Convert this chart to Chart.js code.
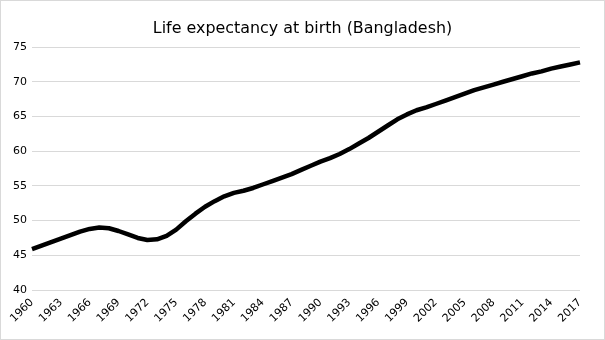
<!DOCTYPE html>
<html>
<head>
<meta charset="utf-8">
<script src="https://cdn.jsdelivr.net/npm/chart.js@4.4.1/dist/chart.umd.min.js"></script>
<style>
  html, body { margin: 0; padding: 0; background: #ffffff; }
  #wrap { width: 605px; height: 340px; position: relative; }
</style>
</head>
<body>
<div id="wrap"><canvas id="c" width="605" height="340"></canvas></div>
<script>
const chartTitle = "Life expectancy at birth (Bangladesh)";
const years = [
  1960,1961,1962,1963,1964,1965,1966,1967,1968,1969,
  1970,1971,1972,1973,1974,1975,1976,1977,1978,1979,
  1980,1981,1982,1983,1984,1985,1986,1987,1988,1989,
  1990,1991,1992,1993,1994,1995,1996,1997,1998,1999,
  2000,2001,2002,2003,2004,2005,2006,2007,2008,2009,
  2010,2011,2012,2013,2014,2015,2016,2017
];
const lifeExpectancy = [
  45.9,46.4,46.9,47.4,47.9,48.4,48.8,49.0,48.9,48.5,
  48.0,47.5,47.2,47.3,47.8,48.7,49.9,51.0,52.0,52.8,
  53.5,54.0,54.3,54.7,55.2,55.7,56.2,56.7,57.3,57.9,
  58.5,59.0,59.6,60.3,61.1,61.9,62.8,63.7,64.6,65.3,
  65.9,66.3,66.8,67.3,67.8,68.3,68.8,69.2,69.6,70.0,
  70.4,70.8,71.2,71.5,71.9,72.2,72.5,72.8
];
const yTicks = [40,45,50,55,60,65,70,75];

const borderPlugin = {
  id: 'frame',
  beforeDraw(chart) {
    const ctx = chart.ctx;
    ctx.save();
    ctx.fillStyle = '#ffffff';
    ctx.fillRect(0, 0, chart.width, chart.height);
    ctx.strokeStyle = '#d9d9d9';
    ctx.lineWidth = 1;
    ctx.strokeRect(0.5, 0.5, chart.width - 1, chart.height - 1);
    ctx.restore();
  }
};

new Chart(document.getElementById('c'), {
  type: 'line',
  data: {
    labels: years.map(String),
    datasets: [{
      data: lifeExpectancy,
      borderColor: '#000000',
      borderWidth: 4.5,
      pointRadius: 0,
      tension: 0,
      fill: false,
      borderCapStyle: 'butt',
      borderJoinStyle: 'round'
    }]
  },
  options: {
    responsive: false,
    animation: false,
    devicePixelRatio: 1,
    layout: { padding: { left: 0, right: 0, top: 0, bottom: 0 } },
    plugins: {
      legend: { display: false },
      tooltip: { enabled: false },
      title: {
        display: true,
        text: chartTitle,
        color: '#000000',
        font: { family: 'DejaVu Sans', size: 15.9, weight: 'normal' },
        padding: { top: 19, bottom: 9 }
      }
    },
    scales: {
      x: {
        grid: { display: false, drawTicks: false },
        border: { display: false },
        ticks: {
          autoSkip: false,
          maxRotation: 45,
          minRotation: 45,
          padding: 6,
          color: '#000000',
          font: { family: 'DejaVu Sans', size: 11 },
          callback: function(v, i) { return i % 3 === 0 ? years[i] : ''; }
        },
        afterFit: function(s) { s.height = 50; }
      },
      y: {
        min: yTicks[0],
        max: yTicks[yTicks.length - 1],
        afterBuildTicks: function(s) { s.ticks = yTicks.map(v => ({ value: v })); },
        grid: { color: '#d9d9d9', lineWidth: 1, drawTicks: false },
        border: { display: false },
        ticks: {
          padding: 5,
          color: '#000000',
          font: { family: 'DejaVu Sans', size: 11 }
        },
        afterFit: function(s) { s.width = 32; }
      },
      yRight: {
        position: 'right',
        display: true,
        grid: { display: false, drawTicks: false },
        border: { display: false },
        ticks: { display: false },
        afterFit: function(s) { s.width = 25; }
      }
    }
  },
  plugins: [borderPlugin]
});
</script>
</body>
</html>
